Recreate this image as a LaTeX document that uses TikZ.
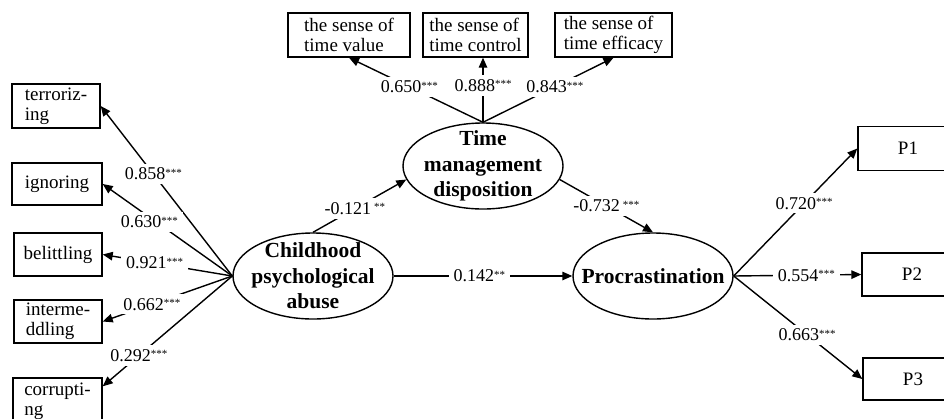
\documentclass[tikz,border=0pt]{standalone}
\usepackage{fontspec}
\setmainfont{Liberation Serif}
\usetikzlibrary{arrows.meta,shapes.geometric}
\newcommand\sigstars[1]{\raisebox{3.5pt}{\fontsize{11}{11}\selectfont#1}}
\begin{document}
\begin{tikzpicture}[x=1pt,y=-1pt,
  line width=1.4pt,
  arr/.style={-{Triangle[length=10pt,width=8.5pt]}},
  box/.style={draw, rectangle, line width=1.4pt, inner sep=0pt, font=\fontsize{19}{20}\selectfont, align=left},
  lat/.style={draw, ellipse, line width=1.4pt, inner sep=0pt, minimum width=160pt, minimum height=86pt},
  lattext/.style={font=\fontsize{21.5}{25.5}\bfseries\selectfont, align=center},
  lab/.style={fill=white, inner xsep=5pt, inner ysep=4pt, font=\fontsize{18}{19}\selectfont}
]
\useasboundingbox (0,0) rectangle (944,418);

% left indicator boxes
\node[box, minimum width=88pt, minimum height=44pt] (ter) at (56,106) {terroriz-\\ing};
\node[box, minimum width=90pt, minimum height=42pt] (ign) at (57,184) {ignoring};
\node[box, minimum width=88pt, minimum height=43pt] (bel) at (58,254.5) {belittling};
\node[box, minimum width=88pt, minimum height=43pt] (int) at (58,321.5) {interme-\\ddling};
\node[box, minimum width=89pt, minimum height=46pt] (cor) at (57.5,401) {corrupti-\\ng};

% top indicator boxes
\node[box, minimum width=122pt, minimum height=44pt] (tv) at (349,35) {the sense of\\time value};
\node[box, minimum width=105pt, minimum height=44pt] (tc) at (475.5,35) {the sense of\\time control};
\node[box, minimum width=117pt, minimum height=44pt] (te) at (613.5,35) {the sense of\\time efficacy};

% right indicator boxes
\node[box, minimum width=100pt, minimum height=44pt] (p1) at (908,148.5) {P1};
\node[box, minimum width=100pt, minimum height=43pt] (p2) at (912,274.5) {P2};
\node[box, minimum width=100pt, minimum height=42pt] (p3) at (913,379) {P3};

% latent variables
\node[lat, label={[lattext]center:{Childhood\\psychological\\abuse}}] (cpa) at (313,276) {};
\node[lat, label={[lattext]center:{Time\\management\\disposition}}] (tm) at (483,166) {};
\node[lat, label={[lattext]center:{Procrastination}}] (proc) at (653,276) {};

% childhood psychological abuse loadings
\draw[arr] (cpa.west) -- node[lab,pos=0.6]{0.858\sigstars{***}} (ter.east);
\draw[arr] (cpa.west) -- node[lab,pos=0.64,yshift=-5pt]{0.630\sigstars{***}} (ign.east);
\draw[arr] (cpa.west) -- node[lab,pos=0.6]{0.921\sigstars{***}} (bel.east);
\draw[arr] (cpa.west) -- node[lab,pos=0.62]{0.662\sigstars{***}} (int.east);
\draw[arr] (cpa.west) -- node[lab,pos=0.72]{0.292\sigstars{***}} ([yshift=-9pt]cor.north east);

% time management loadings
\draw[arr] (tm.north) -- node[lab,pos=0.55]{0.650\sigstars{***}} (tv.south);
\draw[arr] (tm.north) -- node[lab,pos=0.57]{0.888\sigstars{***}} (tm.north |- tc.south);
\draw[arr] (tm.north) -- node[lab,pos=0.55]{0.843\sigstars{***}} (te.south);

% structural paths
\draw[arr] (cpa.north) -- node[lab,pos=0.45]{-0.121\,\sigstars{**}} (tm.190);
\draw[arr] (tm.350) -- node[lab,pos=0.5]{-0.732\,\sigstars{***}} (proc.north);
\draw[arr] (cpa.east) -- node[lab,pos=0.48]{0.142\sigstars{**}} (proc.west);

% procrastination loadings
\draw[arr] (proc.east) -- node[lab,pos=0.57]{0.720\sigstars{***}} (p1.west);
\draw[arr] (proc.east) -- node[lab,pos=0.57]{0.554\sigstars{***}} (p2.west);
\draw[arr] (proc.east) -- node[lab,pos=0.57]{0.663\sigstars{***}} (p3.west);
\end{tikzpicture}
\end{document}
